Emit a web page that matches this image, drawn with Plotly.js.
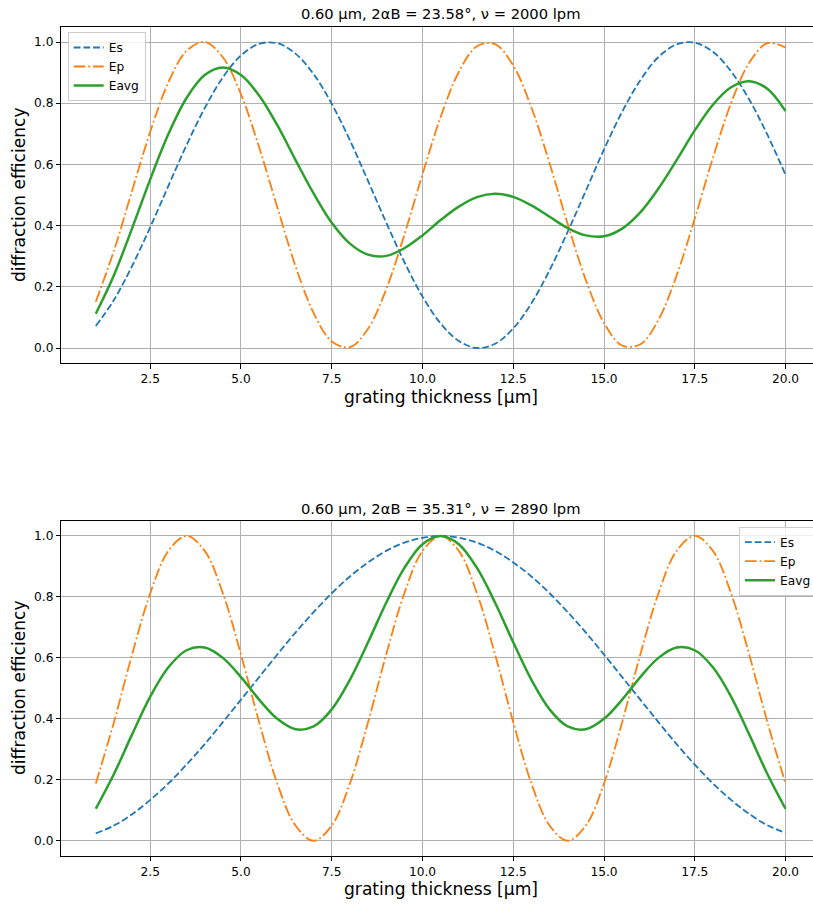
<!DOCTYPE html>
<html>
<head>
<meta charset="utf-8">
<script src="https://cdn.plot.ly/plotly-3.0.1.min.js"></script>
<style>html,body{margin:0;padding:0;overflow:hidden;background:#fff;}#chart{width:830px;height:904px;}</style>
</head>
<body>
<div id="chart"></div>
<script>
// grating thickness [µm]
const thickness = [1.0,1.5,2.0,2.5,3.0,3.5,4.0,4.5,5.0,5.5,6.0,6.5,7.0,7.5,8.0,8.5,9.0,9.5,10.0,10.5,11.0,11.5,12.0,12.5,13.0,13.5,14.0,14.5,15.0,15.5,16.0,16.5,17.0,17.5,18.0,18.5,19.0,19.5,20.0];

// Top panel: 2αB = 23.58°, ν = 2000 lpm
const topEs = [0.072,0.157,0.268,0.395,0.530,0.663,0.784,0.884,0.956,0.994,0.996,0.962,0.895,0.798,0.679,0.546,0.410,0.281,0.168,0.080,0.023,0.000,0.014,0.064,0.146,0.254,0.380,0.514,0.649,0.772,0.875,0.951,0.992,0.998,0.968,0.904,0.812,0.697,0.566];
const topEp = [0.151,0.318,0.514,0.707,0.868,0.971,1.000,0.950,0.829,0.656,0.460,0.268,0.115,0.021,0.003,0.063,0.192,0.370,0.568,0.755,0.902,0.986,0.993,0.923,0.786,0.604,0.405,0.222,0.082,0.008,0.012,0.092,0.237,0.423,0.621,0.800,0.932,0.996,0.982];
const topEavg = [0.112,0.238,0.391,0.551,0.699,0.817,0.892,0.917,0.892,0.825,0.728,0.615,0.505,0.409,0.341,0.305,0.301,0.326,0.368,0.418,0.462,0.493,0.504,0.494,0.466,0.429,0.392,0.368,0.365,0.390,0.443,0.521,0.614,0.711,0.795,0.852,0.872,0.847,0.774];

// Bottom panel: 2αB = 35.31°, ν = 2890 lpm
const botEs = [0.024,0.050,0.087,0.134,0.188,0.250,0.317,0.389,0.463,0.537,0.611,0.683,0.750,0.812,0.867,0.913,0.951,0.978,0.994,1.000,0.994,0.978,0.951,0.913,0.867,0.812,0.750,0.683,0.611,0.537,0.463,0.389,0.317,0.250,0.188,0.134,0.088,0.051,0.026];
const botEp = [0.188,0.389,0.611,0.812,0.951,1.000,0.951,0.812,0.611,0.389,0.188,0.050,0.000,0.050,0.188,0.389,0.611,0.812,0.951,1.000,0.951,0.812,0.611,0.389,0.188,0.050,0.000,0.050,0.188,0.389,0.611,0.812,0.951,1.000,0.951,0.812,0.611,0.389,0.188];
const botEavg = [0.105,0.219,0.349,0.473,0.569,0.625,0.634,0.600,0.537,0.463,0.400,0.366,0.375,0.431,0.528,0.651,0.781,0.895,0.973,1.000,0.973,0.895,0.781,0.651,0.528,0.431,0.375,0.366,0.400,0.463,0.537,0.600,0.634,0.625,0.569,0.473,0.349,0.219,0.105];

const seriesNames = ['Es','Ep','Eavg'];
const titles = ['0.60 µm, 2αB = 23.58°, ν = 2000 lpm', '0.60 µm, 2αB = 35.31°, ν = 2890 lpm'];
const xTickVals = [2.5,5.0,7.5,10.0,12.5,15.0,17.5,20.0];
const yTickVals = [0.0,0.2,0.4,0.6,0.8,1.0];

const W = 830, H = 904;
const colors = ['#1f77b4','#ff7f0e','#2ca02c'];
const dashes = ['6.8px,2.9px','11.7px,2.9px,1.8px,2.9px','solid'];
const widths = [1.8,1.8,2.5];

function mk(ys, i, xa, ya, leg) {
  return {x: thickness, y: ys, type: 'scatter', mode: 'lines', name: seriesNames[i],
    xaxis: xa, yaxis: ya, legend: leg, hoverinfo: 'skip',
    line: {color: colors[i], dash: dashes[i], width: widths[i], shape: 'spline', smoothing: 1}};
}
const data = [
  mk(topEs,0,'x','y','legend'), mk(topEp,1,'x','y','legend'), mk(topEavg,2,'x','y','legend'),
  mk(botEs,0,'x2','y2','legend2'), mk(botEp,1,'x2','y2','legend2'), mk(botEavg,2,'x2','y2','legend2')
];

const font = 'DejaVu Sans, sans-serif';
const xd = [61.3/W, 820/W];
function xax(anchor) {
  return {domain: xd, range: [0.05, 20.95], anchor: anchor, tickmode: 'array', tickvals: xTickVals,
    ticktext: xTickVals.map(v => v.toFixed(1)), showgrid: true, gridcolor: '#b0b0b0', gridwidth: 1,
    zeroline: false, showline: true, mirror: true, linecolor: '#000', linewidth: 1.1,
    ticks: 'outside', ticklen: 4.3, tickwidth: 1, tickcolor: '#000',
    tickfont: {family: font, size: 12.2, color: '#000'}};
}
function yax(anchor, dom) {
  return {domain: dom, range: [-0.05, 1.05], anchor: anchor, tickmode: 'array', tickvals: yTickVals,
    ticktext: yTickVals.map(v => v.toFixed(1)), showgrid: true, gridcolor: '#b0b0b0', gridwidth: 1,
    zeroline: false, showline: true, mirror: true, linecolor: '#000', linewidth: 1.1,
    ticks: 'outside', ticklen: 4.3, tickwidth: 1, tickcolor: '#000',
    tickfont: {family: font, size: 12.2, color: '#000'}};
}
const cx = (61.3 + 820) / 2 / W;
function ann(text, px, py, size, angle) {
  return {text: text, xref: 'paper', yref: 'paper', x: px / W, y: 1 - py / H, showarrow: false,
    xanchor: 'center', yanchor: 'middle', textangle: angle || 0, font: {family: font, size: size, color: '#000'}};
}
const legStyle = {bgcolor: 'rgba(255,255,255,0.8)', bordercolor: '#cccccc', borderwidth: 1,
  font: {family: font, size: 12.2, color: '#000'}, itemwidth: 30, tracegroupgap: 0};

const layout = {
  width: W, height: H, margin: {l: 0, r: 0, t: 0, b: 0}, paper_bgcolor: '#fff', plot_bgcolor: '#fff',
  showlegend: true,
  xaxis: xax('y'), yaxis: yax('x', [1 - 363.3 / H, 1 - 26.7 / H]),
  xaxis2: xax('y2'), yaxis2: yax('x2', [1 - 856 / H, 1 - 520.7 / H]),
  legend: Object.assign({x: 67.7 / W, y: 1 - 32 / H, xanchor: 'left', yanchor: 'top'}, legStyle),
  legend2: Object.assign({x: 739 / W, y: 1 - 526.7 / H, xanchor: 'left', yanchor: 'top'}, legStyle),
  annotations: [
    ann(titles[0], cx * W, 14, 14.7), ann(titles[1], cx * W, 508, 14.7),
    ann('grating thickness [µm]', cx * W, 396.5, 17.1), ann('grating thickness [µm]', cx * W, 889, 17.1),
    ann('diffraction efficiency', 19, 195, 17.1, -90), ann('diffraction efficiency', 19, 688, 17.1, -90)
  ]
};
Plotly.newPlot('chart', data, layout, {displayModeBar: false, staticPlot: true});
</script>
</body>
</html>
